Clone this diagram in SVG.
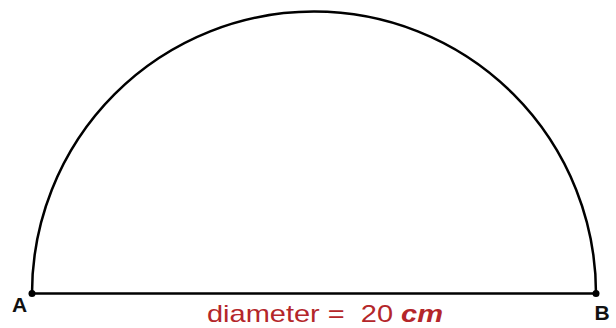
<svg xmlns="http://www.w3.org/2000/svg" width="616" height="328" viewBox="0 0 616 328">
<style>
.ln{fill:none;stroke:#000;stroke-width:2.5}
.pt{font-family:"Liberation Sans",Arial,sans-serif;font-weight:bold;font-size:21px;fill:#111}
.lab{font-family:"Liberation Sans",Arial,sans-serif;font-size:24px;fill:#b4262a}
</style>
<rect width="616" height="328" fill="#fff"/>
<g id="connectors">
<path id="arc" class="ln" d="M32 293.5 A282 282 0 0 1 596 293.5"/>
<line id="diameter" class="ln" x1="32" y1="293.5" x2="596" y2="293.5"/>
</g>
<g id="A"><circle cx="32" cy="293.5" r="3.5" fill="#000"/><text class="pt" x="19.5" y="312" text-anchor="middle">A</text></g>
<g id="B"><circle cx="596" cy="293.5" r="3.5" fill="#000"/><text class="pt" x="602" y="320" text-anchor="middle">B</text></g>
<g id="label"><text class="lab" x="207" y="322" textLength="236" lengthAdjust="spacingAndGlyphs" xml:space="preserve">diameter =  20 <tspan font-weight="bold" font-style="italic">cm</tspan></text></g>
</svg>
